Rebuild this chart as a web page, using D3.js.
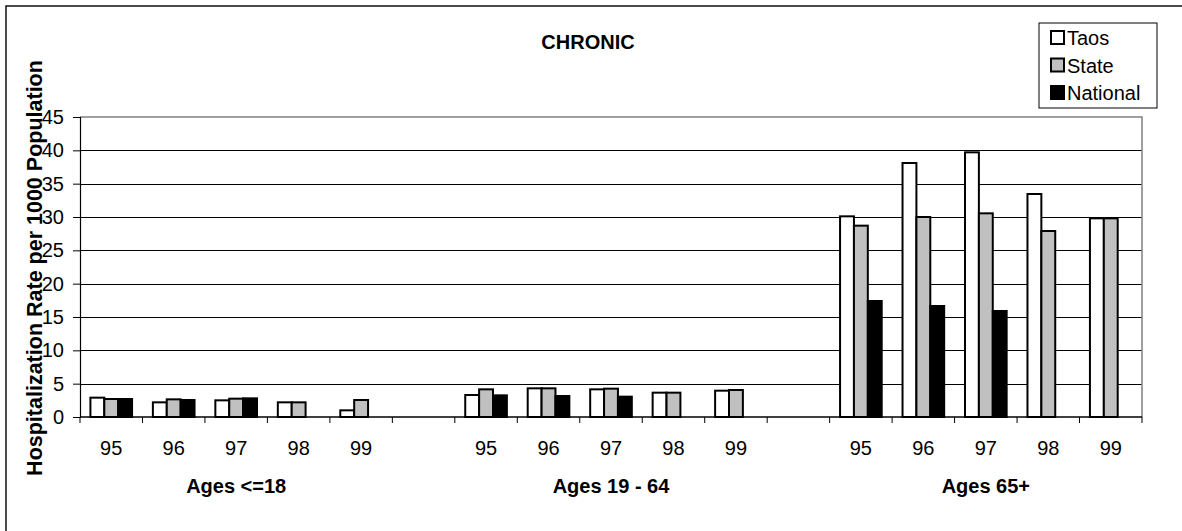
<!DOCTYPE html>
<html>
<head>
<meta charset="utf-8">
<script src="https://cdn.jsdelivr.net/npm/d3@7"></script>
<style>
  html, body { margin: 0; padding: 0; background: #fff; }
  svg { display: block; font-family: "Liberation Sans", Arial, sans-serif; }
  .tick-label { font-size: 20px; fill: #000; }
  .bold { font-weight: bold; font-size: 20px; fill: #000; }
</style>
</head>
<body>
<svg class="chart"></svg>
<script>
// chart values
var groups = ["Ages <=18", "Ages 19 - 64", "Ages 65+"];
var years = ["95", "96", "97", "98", "99"];
var series = ["Taos", "State", "National"];
var taos     = [2.9, 2.2, 2.5, 2.2, 1.0,   3.3, 4.3, 4.15, 3.65, 3.95,   30.1, 38.1, 39.7, 33.45, 29.8];
var state    = [2.7, 2.65, 2.75, 2.2, 2.55, 4.15, 4.3, 4.25, 3.65, 4.05,  28.7, 30.0, 30.55, 27.9, 29.8];
var national = [2.7, 2.55, 2.8, null, null, 3.25, 3.15, 3.05, null, null, 17.4, 16.65, 15.9, null, null];
var yTicks = [0, 5, 10, 15, 20, 25, 30, 35, 40, 45];
var colors = {Taos: "#ffffff", State: "#c0c0c0", National: "#000000"};

var width = 1182, height = 531;
var margin = {top: 117, right: 40, bottom: 114, left: 80};
var plotW = width - margin.left - margin.right,
    plotH = height - margin.top - margin.bottom;

// categories: 5 years per group, an empty slot between groups
var cats = [];
groups.forEach(function(g, gi) {
    years.forEach(function(y) { cats.push(gi + "-" + y); });
    if (gi < groups.length - 1) cats.push("gap" + gi);
});

var rows = [];
groups.forEach(function(g, gi) {
    years.forEach(function(y, yi) {
        var k = gi * years.length + yi;
        rows.push({cat: gi + "-" + y, Taos: taos[k], State: state[k], National: national[k]});
    });
});

var svg = d3.select(".chart").attr("width", width).attr("height", height);

// outer chart border (right/bottom edges fall outside the picture)
svg.append("rect")
    .attr("x", 6).attr("y", 6)
    .attr("width", 1200).attr("height", 600)
    .attr("fill", "none").attr("stroke", "#111").attr("stroke-width", 1.5);

var g = svg.append("g").attr("transform", "translate(" + margin.left + "," + margin.top + ")");

var x0 = d3.scaleBand().domain(cats).range([0, plotW]).paddingInner(0).paddingOuter(0);
var x1 = d3.scaleBand().domain(series).range([0, x0.bandwidth()]).paddingInner(0).paddingOuter(0.75);
var y = d3.scaleLinear().domain([0, 45]).range([plotH, 0]);

// gridlines
g.selectAll(".grid").data(yTicks.slice(1, -1)).enter().append("line")
    .attr("x1", 0).attr("x2", plotW)
    .attr("y1", function(d) { return Math.round(y(d)) + 0.5; })
    .attr("y2", function(d) { return Math.round(y(d)) + 0.5; })
    .attr("stroke", "#000").attr("stroke-width", 1);

// plot area border (top/right grey)
g.append("path")
    .attr("d", "M0," + y(45) + "H" + plotW + "V" + plotH)
    .attr("fill", "none").attr("stroke", "#808080").attr("stroke-width", 1.5);

// bars
var catG = g.selectAll(".cat").data(rows).enter().append("g")
    .attr("transform", function(d) { return "translate(" + x0(d.cat) + ",0)"; });

catG.selectAll("rect")
    .data(function(d) {
        return series.filter(function(s) { return d[s] != null; })
            .map(function(s) { return {key: s, value: d[s]}; });
    })
    .enter().append("rect")
    .attr("x", function(d) { return x1(d.key); })
    .attr("y", function(d) { return y(d.value); })
    .attr("width", x1.bandwidth())
    .attr("height", function(d) { return plotH - y(d.value); })
    .attr("fill", function(d) { return colors[d.key]; })
    .attr("stroke", "#000").attr("stroke-width", 2);

// y axis
var yAxis = d3.axisLeft(y).tickValues(yTicks).tickSize(7).tickPadding(9);
var yG = g.append("g").call(yAxis);
yG.select(".domain").attr("stroke", "#000").attr("stroke-width", 1.2);
yG.selectAll("text").attr("class", "tick-label").attr("font-family", null).attr("font-size", null);

// x axis: ticks at category boundaries, labels at centres
var xG = g.append("g").attr("transform", "translate(0," + plotH + ")");
xG.append("line").attr("x1", 0).attr("x2", plotW).attr("stroke", "#000").attr("stroke-width", 1.5);
var bounds = cats.map(function(c) { return x0(c); }).concat([plotW]);
xG.selectAll(".xt").data(bounds).enter().append("line")
    .attr("x1", function(d) { return d; }).attr("x2", function(d) { return d; })
    .attr("y1", 0).attr("y2", 6)
    .attr("stroke", "#000").attr("stroke-width", 1);
xG.selectAll(".xl").data(rows).enter().append("text")
    .attr("class", "tick-label")
    .attr("x", function(d) { return x0(d.cat) + x0.bandwidth() / 2; })
    .attr("y", 38)
    .attr("text-anchor", "middle")
    .text(function(d) { return d.cat.split("-")[1]; });

// group labels under the year labels
xG.selectAll(".grp").data(groups).enter().append("text")
    .attr("class", "bold")
    .attr("x", function(d, i) {
        var first = x0(i + "-" + years[0]), last = x0(i + "-" + years[years.length - 1]) + x0.bandwidth();
        return (first + last) / 2;
    })
    .attr("y", 76)
    .attr("text-anchor", "middle")
    .text(function(d) { return d; });

// title
svg.append("text").attr("class", "bold")
    .attr("x", 588).attr("y", 49)
    .attr("text-anchor", "middle")
    .text("CHRONIC");

// y title
svg.append("text").attr("class", "bold")
    .style("font-size", "21.5px")
    .attr("transform", "translate(42,268) rotate(-90)")
    .attr("text-anchor", "middle")
    .text("Hospitalization Rate per 1000 Population");

// legend
var lg = svg.append("g").attr("transform", "translate(1039,23)");
lg.append("rect").attr("width", 118).attr("height", 85)
    .attr("fill", "#fff").attr("stroke", "#000").attr("stroke-width", 1);
var li = lg.selectAll(".li").data(series).enter().append("g")
    .attr("transform", function(d, i) { return "translate(12," + (8 + i * 27.5) + ")"; });
li.append("rect").attr("width", 13).attr("height", 13)
    .attr("fill", function(d) { return colors[d]; })
    .attr("stroke", "#000").attr("stroke-width", 2);
li.append("text").attr("class", "tick-label")
    .attr("x", 16).attr("y", 14)
    .text(function(d) { return d; });
</script>
</body>
</html>
